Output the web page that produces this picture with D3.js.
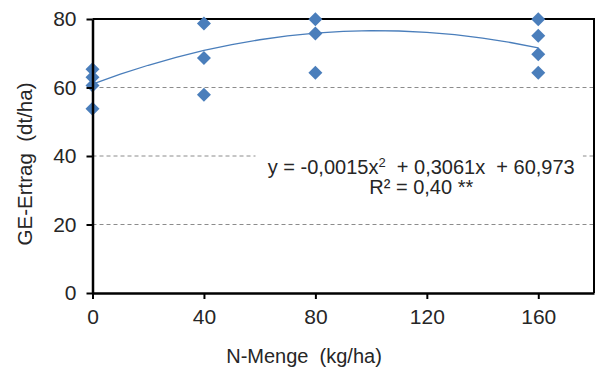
<!DOCTYPE html>
<html>
<head>
<meta charset="utf-8">
<script src="https://cdn.jsdelivr.net/npm/d3@7"></script>
<style>
  body { margin: 0; background: #fff; }
  svg { display: block; font-family: "Liberation Sans", Arial, sans-serif; }
</style>
</head>
<body>
<svg id="chart" width="598" height="370"></svg>
<script>
// Data
const nRates = [0, 0, 0, 0, 40, 40, 40, 80, 80, 80, 160, 160, 160, 160];
const yields = [65.3, 63.0, 60.6, 53.8, 78.7, 68.6, 57.9, 79.9, 75.8, 64.3, 79.9, 75.1, 69.7, 64.3];
const xTicks = [0, 40, 80, 120, 160];
const yTicks = [0, 20, 40, 60, 80];
const gridValues = [20, 40, 60];
// quadratic trend line as printed on the chart
const trendCoef = [-0.0015, 0.3061, 60.973];
const trendSteps = [0, 10, 20, 30, 40, 50, 60, 70, 80, 90, 100, 110, 120, 130, 140, 150, 160];

const margin = { top: 19, right: 4, bottom: 77, left: 92.5 };
const width = 598 - margin.left - margin.right;
const height = 370 - margin.top - margin.bottom;

const svg = d3.select("#chart");
const g = svg.append("g")
  .attr("transform", "translate(" + margin.left + "," + margin.top + ")");

const x = d3.scaleLinear().domain([0, 180]).range([0, width]);
const y = d3.scaleLinear().domain([0, 80]).range([height, 0]);

// dashed gridlines
g.selectAll(".grid")
  .data(gridValues)
  .enter().append("line")
  .attr("class", "grid")
  .attr("x1", 0).attr("x2", width)
  .attr("y1", d => y(d)).attr("y2", d => y(d))
  .attr("stroke", "#8c8c8c")
  .attr("stroke-width", 1)
  .attr("stroke-dasharray", "4,3");

// frame (top + right)
g.append("path")
  .attr("d", "M0," + y(80) + "H" + x(180) + "V" + y(0))
  .attr("fill", "none")
  .attr("stroke", "#000")
  .attr("stroke-width", 2);

// trend line
const trend = d3.line()
  .x(d => x(d))
  .y(d => y(trendCoef[0] * d * d + trendCoef[1] * d + trendCoef[2]));

g.append("path")
  .datum(trendSteps)
  .attr("d", trend)
  .attr("fill", "none")
  .attr("stroke", "#4a7ebb")
  .attr("stroke-width", 1.3);

// equation label with white box (hides the 40 gridline)
const eqX = x(118);
g.append("rect")
  .attr("x", x(58.5)).attr("y", y(43.5))
  .attr("width", x(176) - x(58.5)).attr("height", y(26) - y(43.5))
  .attr("fill", "#fff");

const eq = g.append("text")
  .attr("x", eqX).attr("y", y(34.8))
  .attr("text-anchor", "middle")
  .attr("font-size", 20)
  .attr("fill", "#262626")
  .style("white-space", "pre");
eq.append("tspan").text("y = -0,0015x");
eq.append("tspan").attr("font-size", 13).attr("dy", -7).text("2");
eq.append("tspan").attr("dy", 7).text("  + 0,3061x  + 60,973");

g.append("text")
  .attr("x", eqX).attr("y", y(29))
  .attr("text-anchor", "middle")
  .attr("font-size", 20)
  .attr("fill", "#262626")
  .text("R² = 0,40 **");

// points
g.selectAll(".pt")
  .data(nRates.map((n, i) => [n, yields[i]]))
  .enter().append("path")
  .attr("class", "pt")
  .attr("transform", d => "translate(" + x(d[0]) + "," + y(d[1]) + ")")
  .attr("d", d3.symbol().type(d3.symbolDiamond2).size(125))
  .attr("fill", "#4a7ebb");

// axes
const xAxis = g.append("g")
  .attr("transform", "translate(0," + height + ")")
  .call(d3.axisBottom(x).tickValues(xTicks).tickSize(6).tickSizeOuter(0).tickPadding(10));

const yAxis = g.append("g")
  .call(d3.axisLeft(y).tickValues(yTicks).tickSize(6).tickSizeOuter(0).tickPadding(10));

[xAxis, yAxis].forEach(a => {
  a.select(".domain").attr("stroke", "#000").attr("stroke-width", 2.5);
  a.selectAll(".tick line").attr("stroke", "#000").attr("stroke-width", 2);
  a.selectAll(".tick text")
    .attr("font-size", 21)
    .attr("font-family", "Liberation Sans, Arial, sans-serif")
    .attr("fill", "#262626");
});

// axis titles
svg.append("text")
  .attr("x", 304).attr("y", 363)
  .attr("text-anchor", "middle")
  .attr("font-size", 20)
  .attr("fill", "#262626")
  .style("white-space", "pre")
  .text("N-Menge  (kg/ha)");

svg.append("text")
  .attr("transform", "translate(32,164) rotate(-90)")
  .attr("text-anchor", "middle")
  .attr("font-size", 20.5)
  .attr("fill", "#262626")
  .style("white-space", "pre")
  .text("GE-Ertrag  (dt/ha)");
</script>
</body>
</html>
